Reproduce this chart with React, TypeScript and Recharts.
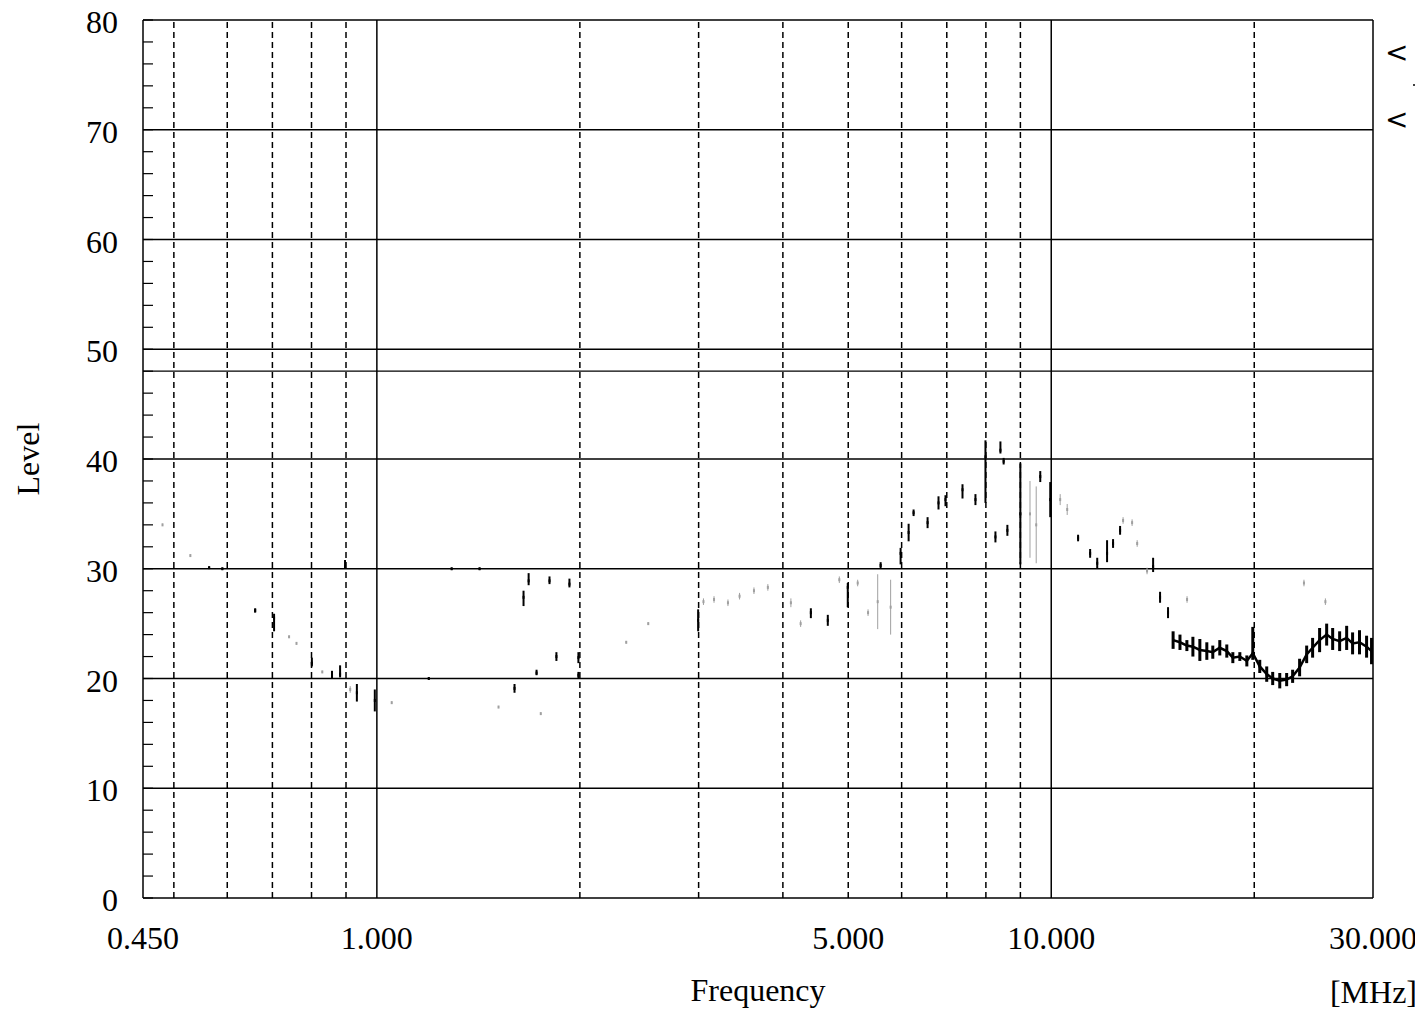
import React from 'react';
import { ComposedChart, Scatter, XAxis, YAxis, ReferenceLine, ErrorBar, Label } from 'recharts';

// ---- axes / grid ----
const xTicks = [0.45, 1, 5, 10, 30];
const yTicks = [0, 2, 4, 6, 8, 10, 12, 14, 16, 18, 20, 22, 24, 26, 28, 30, 32, 34, 36, 38, 40, 42, 44, 46, 48, 50, 52, 54, 56, 58, 60, 62, 64, 66, 68, 70, 72, 74, 76, 78, 80];
const solidFreqLines = [1, 10, 30];
const dashedFreqLines = [0.5, 0.6, 0.7, 0.8, 0.9, 2, 3, 4, 5, 6, 7, 8, 9, 20];
const levelLines = [10, 20, 30, 40, 50, 60, 70, 80];
const limitLines = [48];

// ---- measured peaks (dark) ----
const peakFreq = [0.564, 0.59, 0.66, 0.704, 0.801, 0.858, 0.882, 0.897, 0.934, 0.993, 1.194, 1.291, 1.42, 1.6, 1.65, 1.679, 1.725, 1.803, 1.846, 1.93, 1.99, 1.99, 2.995, 4.401, 4.663, 4.992, 5.585, 5.979, 6.145, 6.25, 6.556, 6.805, 6.969, 7.386, 7.72, 7.988, 8.265, 8.407, 8.5, 8.609, 8.999, 9.632, 9.966, 10.96, 11.42, 11.7, 12.1, 12.35, 12.65, 14.16, 14.5, 14.9];
const peakLevel = [30.1, 30.0, 26.2, 25.5, 21.4, 20.3, 20.4, 30.2, 18.7, 18.0, 20.0, 30.0, 30.0, 19.1, 27.4, 28.9, 20.5, 28.9, 22.0, 28.6, 21.9, 20.3, 25.3, 26.0, 25.3, 28.3, 30.3, 31.4, 33.3, 35.1, 34.2, 36.0, 36.3, 37.2, 36.3, 40.2, 32.9, 40.8, 39.8, 33.5, 35.0, 38.4, 36.3, 32.8, 31.4, 30.5, 31.4, 32.3, 33.5, 30.2, 27.4, 26.0];
const peakDown = [0.1, 0.1, 0.2, 1.2, 0.3, 0.3, 0.3, 0.2, 0.8, 1.0, 0.1, 0.1, 0.1, 0.4, 0.8, 0.4, 0.2, 0.3, 0.4, 0.3, 0.5, 0.3, 1.0, 0.5, 0.5, 1.8, 0.3, 1.0, 0.8, 0.3, 0.5, 0.6, 0.6, 0.8, 0.5, 4.2, 0.5, 0.3, 0.3, 0.5, 4.6, 0.5, 1.6, 0.3, 0.4, 0.5, 0.8, 0.4, 0.4, 0.5, 0.5, 0.5];
const peakUp = [0.1, 0.1, 0.2, 0.4, 0.5, 0.4, 0.8, 0.6, 0.8, 1.0, 0.1, 0.1, 0.1, 0.4, 0.6, 0.7, 0.3, 0.4, 0.4, 0.5, 0.5, 0.3, 1.0, 0.4, 0.5, 0.4, 0.3, 0.5, 0.8, 0.3, 0.5, 0.6, 0.4, 0.5, 0.5, 1.5, 0.5, 0.8, 0.3, 0.5, 4.6, 0.5, 1.6, 0.3, 0.4, 0.5, 1.2, 0.4, 0.4, 0.8, 0.5, 0.5];

// ---- faint readings (light) ----
const faintFreq = [0.481, 0.529, 0.741, 0.76, 0.83, 0.913, 1.052, 1.515, 1.75, 2.343, 2.526, 3.05, 3.162, 3.316, 3.45, 3.624, 3.8, 4.111, 4.25, 4.85, 5.164, 5.35, 5.529, 5.779, 9.3, 9.5, 10.31, 10.56, 12.78, 13.18, 13.41, 13.87, 15.9, 23.7, 25.5];
const faintLevel = [34.0, 31.2, 23.8, 23.2, 20.6, 19.0, 17.8, 17.4, 16.8, 23.3, 25.0, 27.0, 27.2, 26.9, 27.5, 28.0, 28.3, 26.9, 25.0, 29.0, 28.7, 26.0, 27.0, 26.5, 35.0, 34.0, 36.3, 35.4, 34.4, 34.2, 32.3, 29.8, 27.2, 28.7, 27.0];
const faintDown = [0.1, 0.1, 0.1, 0.1, 0.1, 0.3, 0.1, 0.1, 0.1, 0.1, 0.1, 0.3, 0.3, 0.3, 0.3, 0.3, 0.3, 0.4, 0.3, 0.3, 0.3, 0.3, 2.5, 2.5, 4.0, 3.5, 0.5, 0.5, 0.3, 0.3, 0.3, 0.3, 0.3, 0.3, 0.3];
const faintUp = [0.1, 0.1, 0.1, 0.1, 0.1, 0.3, 0.1, 0.1, 0.1, 0.1, 0.1, 0.3, 0.3, 0.3, 0.3, 0.3, 0.3, 0.4, 0.3, 0.3, 0.3, 0.3, 2.5, 2.5, 3.0, 3.5, 0.5, 0.5, 0.3, 0.3, 0.3, 0.3, 0.3, 0.3, 0.3];

// ---- dense noise band (15–30 MHz) ----
const bandFreq = [15.16, 15.52, 15.89, 16.22, 16.61, 17.01, 17.36, 17.78, 18.21, 18.59, 19.04, 19.5, 19.9, 20.38, 20.87, 21.3, 21.82, 22.34, 22.8, 23.35, 23.92, 24.41, 25.0, 25.61, 26.14, 26.77, 27.42, 27.98, 28.65, 29.35, 29.85];
const bandLevel = [23.5, 23.3, 23.0, 22.9, 22.6, 22.5, 22.4, 22.8, 22.5, 21.9, 22.0, 21.6, 22.3, 21.1, 20.4, 20.0, 19.8, 19.9, 20.2, 21.0, 22.2, 22.8, 23.5, 24.0, 23.6, 23.4, 23.7, 23.2, 23.3, 22.9, 22.5];
const bandDown = [0.8, 0.7, 0.5, 0.9, 1.0, 0.8, 0.6, 0.7, 0.6, 0.5, 0.4, 0.5, 0.6, 0.6, 0.7, 0.6, 0.7, 0.6, 0.6, 0.8, 0.8, 0.9, 1.1, 1.0, 1.0, 0.9, 1.1, 1.0, 1.1, 1.0, 1.2];
const bandUp = [0.8, 0.7, 0.5, 0.9, 1.0, 0.8, 0.6, 0.7, 0.6, 0.5, 0.4, 0.5, 2.4, 0.6, 0.7, 0.6, 0.7, 0.6, 0.6, 0.8, 0.8, 0.9, 1.1, 1.0, 1.0, 0.9, 1.1, 1.0, 1.1, 1.0, 1.2];

const build = (f: number[], v: number[], d: number[], u: number[]) =>
  f.map((x, i) => ({ f: x, v: v[i], err: [d[i], u[i]] }));

const peakData = build(peakFreq, peakLevel, peakDown, peakUp);
const faintData = build(faintFreq, faintLevel, faintDown, faintUp);
const bandData = build(bandFreq, bandLevel, bandDown, bandUp);

const FONT = "'Liberation Serif', 'Times New Roman', serif";

const YTick = (p: any) => {
  const val = p.payload.value;
  if (val % 10 !== 0) return <g />;
  return (
    <text x={p.x} y={p.y + 2} textAnchor="end" dominantBaseline="central" fontFamily={FONT} fontSize={32} fill="#000">
      {val}
    </text>
  );
};

const dot = (color: string) => (p: any) => (
  <rect x={p.cx - 1} y={p.cy - 1.5} width={2} height={3} fill={color} />
);

export default function App() {
  return (
    <div style={{ position: 'relative', marginTop: -8, width: 1415, height: 1011, background: '#fff' }}>
      <ComposedChart width={1415} height={1011} margin={{ top: 20, right: 50, bottom: 0, left: 0 }}>
        <XAxis
          dataKey="f"
          type="number"
          scale="log"
          domain={[0.45, 30]}
          allowDataOverflow
          ticks={xTicks}
          tickFormatter={(v: number) => v.toFixed(3)}
          tickLine={false}
          tickMargin={22}
          height={113}
          axisLine={{ stroke: '#000', strokeWidth: 1.5 }}
          tick={{ fontFamily: FONT, fontSize: 32, fill: '#000' }}
          interval={0}
        >
          <Label
            content={(props: any) => {
              const vb = props.viewBox;
              return (
                <g>
                  <text x={vb.x + vb.width / 2} y={vb.y + 103} textAnchor="middle" fontFamily={FONT} fontSize={32} fill="#000">
                    Frequency
                  </text>
                  <text x={vb.x + vb.width + 44} y={vb.y + 105} textAnchor="end" fontFamily={FONT} fontSize={32} fill="#000">
                    [MHz]
                  </text>
                </g>
              );
            }}
          />
        </XAxis>
        <YAxis
          type="number"
          domain={[0, 80]}
          ticks={yTicks}
          interval={0}
          width={135}
          tickSize={-10}
          tickMargin={35}
          tickLine={{ stroke: '#000', strokeWidth: 1.2 }}
          axisLine={{ stroke: '#000', strokeWidth: 1.5 }}
          tick={<YTick />}
          allowDataOverflow
        >
          <Label
            content={(props: any) => {
              const vb = props.viewBox;
              const cx = vb.x + 20;
              const cy = vb.y + vb.height / 2;
              return (
                <text x={cx} y={cy} transform={`rotate(-90 ${cx} ${cy})`} textAnchor="middle" dominantBaseline="central" fontFamily={FONT} fontSize={32} fill="#000">
                  Level
                </text>
              );
            }}
          />
        </YAxis>

        {levelLines.map((y) => (
          <ReferenceLine key={'h' + y} y={y} stroke="#000" strokeWidth={1.3} />
        ))}
        {limitLines.map((y) => (
          <ReferenceLine key={'l' + y} y={y} stroke="#000" strokeWidth={1.3} />
        ))}
        {solidFreqLines.map((x) => (
          <ReferenceLine key={'s' + x} x={x} stroke="#000" strokeWidth={1.5} />
        ))}
        {dashedFreqLines.map((x) => (
          <ReferenceLine key={'d' + x} x={x} stroke="#000" strokeWidth={1.5} strokeDasharray="6 4" />
        ))}

        <Scatter data={faintData} dataKey="v" isAnimationActive={false} shape={dot('#a0a0a0')}>
          <ErrorBar dataKey="err" direction="y" width={0} stroke="#a0a0a0" strokeWidth={1} />
        </Scatter>
        <Scatter data={peakData} dataKey="v" isAnimationActive={false} shape={dot('#000')}>
          <ErrorBar dataKey="err" direction="y" width={0} stroke="#000" strokeWidth={2} />
        </Scatter>
        <Scatter
          data={bandData}
          dataKey="v"
          isAnimationActive={false}
          shape={dot('#000')}
          line={{ stroke: '#000', strokeWidth: 2.5 }}
          lineType="joint"
        >
          <ErrorBar dataKey="err" direction="y" width={0} stroke="#000" strokeWidth={3} />
        </Scatter>
      </ComposedChart>
      <svg style={{ position: 'absolute', left: 1370, top: 28, overflow: 'visible' }} width={45} height={110}>
        <text x={7} y={34} fontFamily="'DejaVu Sans', sans-serif" fontSize={28} fill="#000">&lt;</text>
        <line x1={35} y1={57} x2={45} y2={57} stroke="#000" strokeWidth={1.5} />
        <text x={7} y={101} fontFamily="'DejaVu Sans', sans-serif" fontSize={28} fill="#000">&lt;</text>
      </svg>
    </div>
  );
}
